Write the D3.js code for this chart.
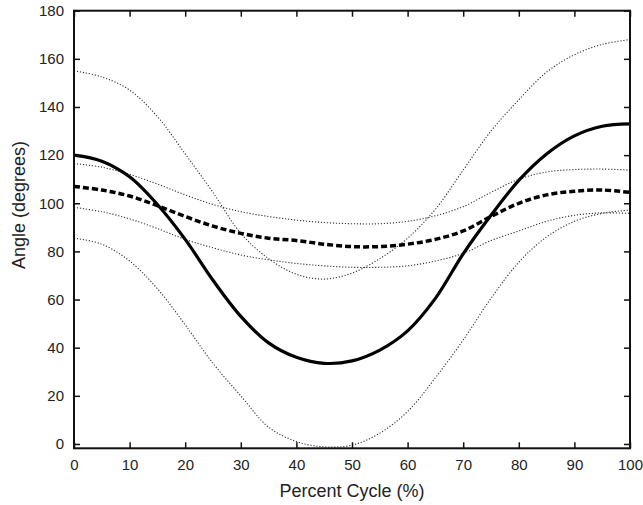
<!DOCTYPE html>
<html>
<head>
<meta charset="utf-8">
<script src="https://cdn.jsdelivr.net/npm/d3@7"></script>
<style>
  body { margin: 0; background: #fff; }
  svg text { font-family: "Liberation Sans", Arial, sans-serif; fill: #222; }
</style>
</head>
<body>
<svg id="chart"></svg>
<script>
// percent of cycle, sampled every 5%
const cycle = [0, 5, 10, 15, 20, 25, 30, 35, 40, 45, 50, 55, 60, 65, 70, 75, 80, 85, 90, 95, 100];

// solid mean and its +/- band
const solidMean = [120, 117.5, 111, 99.5, 85, 68, 53, 42, 36, 33.5, 34.5, 39, 47, 60.5, 79, 95, 109.5, 120.5, 128, 132, 133];
const solidHigh = [155, 152.5, 147, 136, 120.5, 104.5, 87.5, 77, 70.5, 68.5, 71, 77, 85.5, 97.5, 113.8, 130, 143, 154.5, 161.7, 166, 168];
const solidLow  = [85.5, 83, 76, 64.5, 49.5, 33.5, 20, 7, 1, -1.2, -0.5, 4.5, 13.5, 27.5, 43.2, 60.5, 75.5, 86, 92.5, 95.8, 97.2];

// dashed mean and its +/- band
const dashMean = [107, 105.5, 103, 99, 94.5, 90.5, 87.5, 85.5, 84.5, 83, 82, 82, 83, 85, 88.5, 94.5, 100, 103.5, 105, 105.5, 104.5];
const dashHigh = [116.5, 115, 112, 108, 103.5, 99.5, 96.5, 94.5, 93, 92, 91.5, 91.5, 92.5, 94.8, 98.6, 104.5, 110, 113, 114, 114.2, 113.8];
const dashLow  = [98.3, 96.5, 93.5, 89.5, 85, 81.5, 78.5, 76.5, 75, 74, 73.4, 73.4, 74, 76, 79.2, 84.5, 88.5, 92.5, 95, 96, 95.8];

const xTicks = [0, 10, 20, 30, 40, 50, 60, 70, 80, 90, 100];
const yTicks = [0, 20, 40, 60, 80, 100, 120, 140, 160, 180];

const W = 643, H = 505;
const plotLeft = 74, plotRight = 630, plotTop = 10.7, plotBottom = 448.3;

const svg = d3.select("#chart").attr("width", W).attr("height", H);

const x = d3.scaleLinear().domain([0, 100]).range([plotLeft, plotRight]);
const y = d3.scaleLinear().domain([-1.8, 180]).range([plotBottom, plotTop]);

const line = d3.line()
    .x((d, i) => x(cycle[i]))
    .y(d => y(d))
    .curve(d3.curveCatmullRom.alpha(0.5));

// dotted bands first, means on top
const bands = [solidHigh, solidLow, dashHigh, dashLow];
svg.selectAll(".band")
    .data(bands)
    .enter().append("path")
    .attr("class", "band")
    .attr("d", line)
    .attr("fill", "none")
    .attr("stroke", "#333")
    .attr("stroke-width", 1.1)
    .attr("stroke-dasharray", "1.2,1.8");

svg.append("path")
    .attr("d", line(dashMean))
    .attr("fill", "none")
    .attr("stroke", "#000")
    .attr("stroke-width", 3.5)
    .attr("stroke-dasharray", "6,3");

svg.append("path")
    .attr("d", line(solidMean))
    .attr("fill", "none")
    .attr("stroke", "#000")
    .attr("stroke-width", 3.2);

// axes with inward ticks on all sides
const gx = svg.append("g")
    .attr("transform", `translate(0,${plotBottom})`)
    .call(d3.axisBottom(x).tickValues(xTicks).tickSize(-6).tickPadding(11));
const gy = svg.append("g")
    .attr("transform", `translate(${plotLeft},0)`)
    .call(d3.axisLeft(y).tickValues(yTicks).tickSize(-6).tickPadding(10));
const gt = svg.append("g")
    .attr("transform", `translate(0,${plotTop})`)
    .call(d3.axisTop(x).tickValues(xTicks).tickSize(-6).tickFormat(""));
const gr = svg.append("g")
    .attr("transform", `translate(${plotRight},0)`)
    .call(d3.axisRight(y).tickValues(yTicks).tickSize(-6).tickFormat(""));

[gx, gy, gt, gr].forEach(g => {
    g.select(".domain").remove();
    g.selectAll(".tick line").attr("stroke", "#111").attr("stroke-width", 1.5);
    g.selectAll(".tick text").attr("font-size", 15).attr("fill", "#222")
        .style("font-family", "'Liberation Sans', Arial, sans-serif");
});

svg.append("rect")
    .attr("x", plotLeft).attr("y", plotTop)
    .attr("width", plotRight - plotLeft).attr("height", plotBottom - plotTop)
    .attr("fill", "none")
    .attr("stroke", "#111")
    .attr("stroke-width", 2);

// axis titles
svg.append("text")
    .attr("x", (plotLeft + plotRight) / 2)
    .attr("y", 497)
    .attr("text-anchor", "middle")
    .attr("font-size", 18)
    .text("Percent Cycle (%)");

svg.append("text")
    .attr("transform", "translate(25,205) rotate(-90)")
    .attr("text-anchor", "middle")
    .attr("font-size", 18)
    .text("Angle (degrees)");
</script>
</body>
</html>
